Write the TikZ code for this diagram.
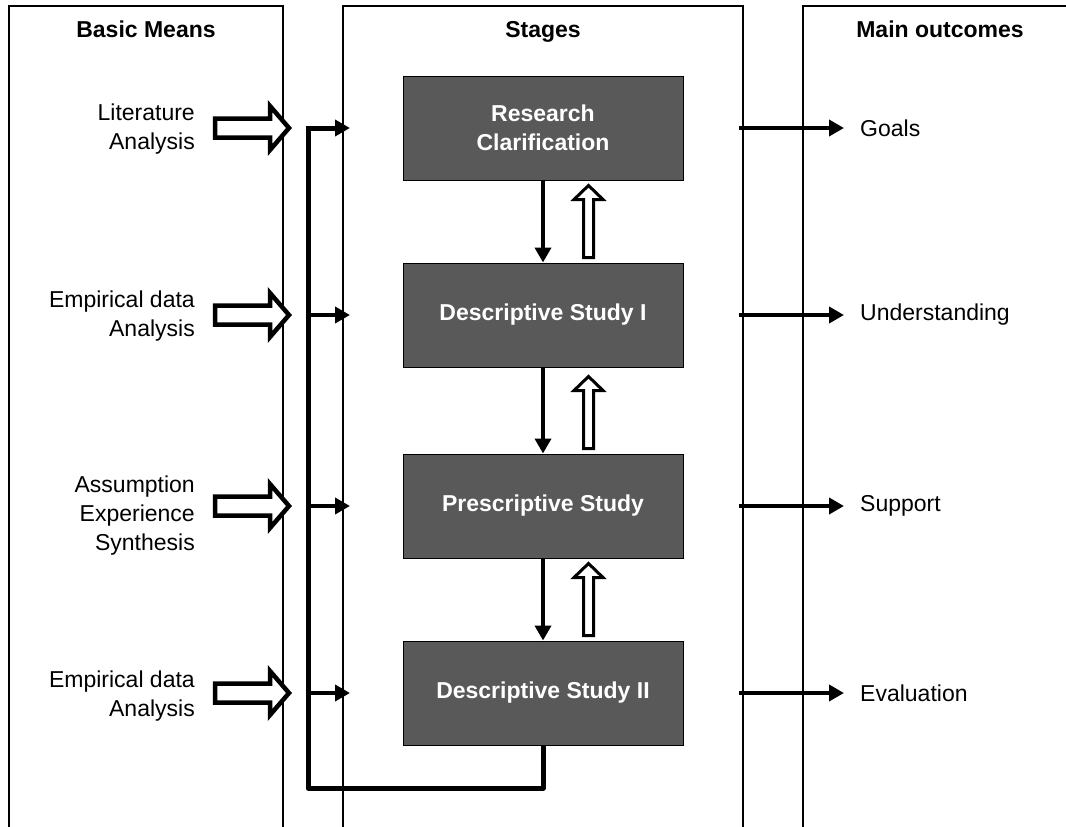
\documentclass[tikz,border=0pt]{standalone}
\usepackage{fontspec}
\setmainfont{Liberation Sans}
\usetikzlibrary{arrows.meta,calc}
\definecolor{stagefill}{HTML}{595959}
\begin{document}
\begin{tikzpicture}[x=1pt,y=-1pt,
  txt/.style={font=\fontsize{23}{29}\selectfont, inner sep=0pt},
  header/.style={txt, font=\fontsize{23}{29}\selectfont\bfseries, anchor=base},
  means/.style={txt, align=right, anchor=east},
  outcome/.style={txt, anchor=west},
  stagebox/.style={draw=black, line width=1pt, fill=stagefill, text=white,
    minimum width=280pt, minimum height=104pt, align=center,
    font=\fontsize{23}{29}\selectfont\bfseries},
  column/.style={line width=1.2pt},
  solidarrow/.style={line width=4.5pt, -{Triangle[length=15pt,width=16pt]}},
  downarrow/.style={line width=4pt, -{Triangle[length=15pt,width=16pt]}},
  feedback/.style={line width=5pt, line join=round},
  hollowright/.pic={
    \draw[line width=4.5pt, fill=white, line join=miter]
      (0,-9.5) -- (55,-9.5) -- (55,-22) -- (74,0) -- (55,22) -- (55,9.5) -- (0,9.5) -- cycle;},
  hollowup/.pic={
    \draw[line width=3pt, fill=white, line join=miter]
      (-5,0) -- (-5,-58) -- (-14.5,-58) -- (0,-72) -- (14.5,-58) -- (5,-58) -- (5,0) -- cycle;}
]
\useasboundingbox (0,0) rectangle (1066,827);

% three open-bottom columns
\draw[column] (9,827) -- (9,6) -- (283,6) -- (283,827);
\draw[column] (343,827) -- (343,6) -- (743,6) -- (743,827);
\draw[column] (803,827) -- (803,6) -- (1066,6);

% column headers
\node[header] (hMeans) at (146,37) {Basic Means};
\node[header] (hStages) at (543,37) {Stages};
\node[header] (hOut) at (940,37) {Main outcomes};

% stages
\node[stagebox] (rc) at (543,128) {Research\\Clarification};
\node[stagebox] (ds1) at (543,315) {Descriptive Study I};
\node[stagebox] (ps) at (543,506) {Prescriptive Study};
\node[stagebox] (ds2) at (543,693) {Descriptive Study II};

% stage-to-stage arrows
\foreach \a/\b in {rc/ds1, ds1/ps, ps/ds2} {
  \draw[downarrow] (\a.south) -- (\b.north);
  \pic at ($(\b.north)+(45.5,-5)$) {hollowup};
}

% basic means
\node[means] (m1) at (195,129) {Literature\\Analysis};
\node[means] (m2) at (195,316) {Empirical data\\Analysis};
\node[means] (m3) at (195,516) {Assumption\\Experience\\Synthesis};
\node[means] (m4) at (195,696) {Empirical data\\Analysis};
\foreach \y in {128,315,506,693} {
  \pic at (215,\y) {hollowright};
}

% feedback loop from the last stage back to every stage
\coordinate (fbBottom) at (308,788);
\coordinate (in1) at (350,128);
\coordinate (in2) at (350,315);
\coordinate (in3) at (350,506);
\coordinate (in4) at (350,693);
\draw[feedback] (ds2.south) |- (fbBottom) -- (308,128) -- (335,128);
\draw[solidarrow] (306,128) -- (in1);
\foreach \i in {2,3,4} {
  \draw[solidarrow] (in\i -| fbBottom) -- (in\i);
}

% outcomes
\node[outcome] (o1) at (860,128) {Goals};
\node[outcome] (o2) at (860,315) {Understanding};
\node[outcome] (o3) at (860,506) {Support};
\node[outcome] (o4) at (860,693) {Evaluation};
\foreach \s/\o in {rc/o1, ds1/o2, ps/o3, ds2/o4} {
  \draw[solidarrow] ($(\s.east)+(55,0)$) -- ($(\o.west)+(-16,0)$);
}
\end{tikzpicture}
\end{document}
